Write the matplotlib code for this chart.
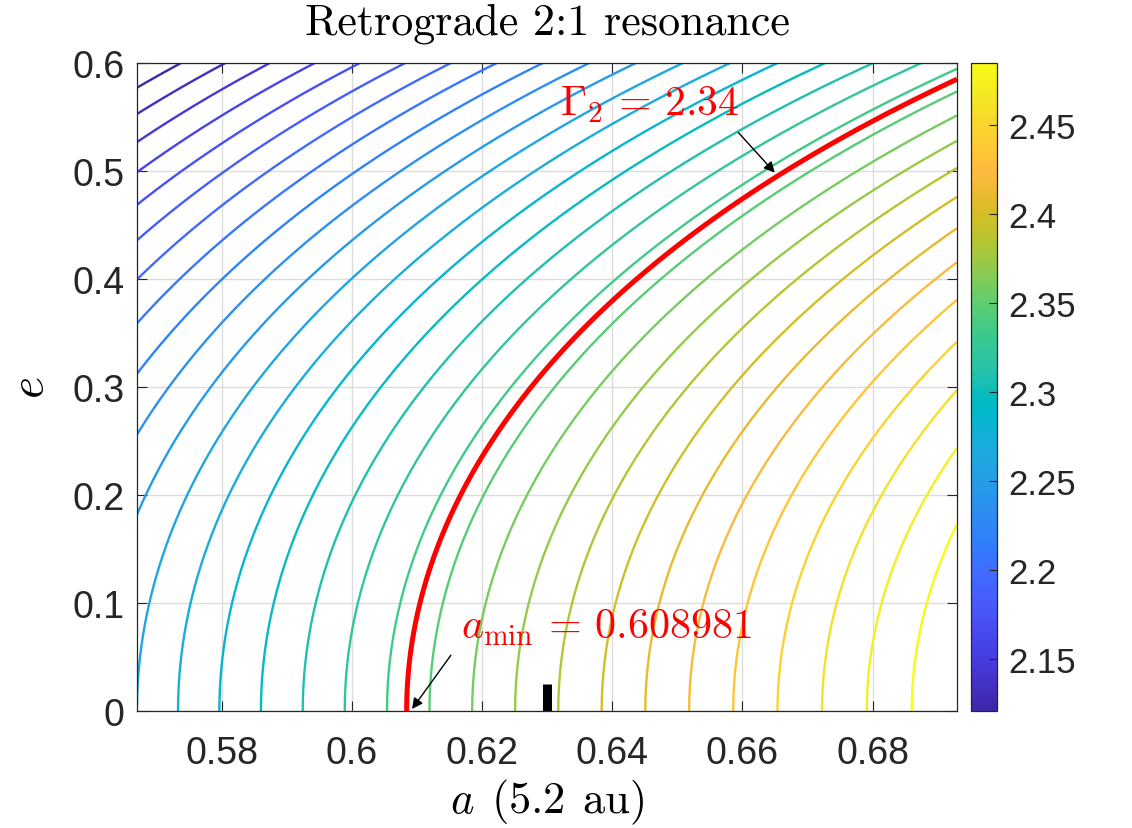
import numpy as np
import matplotlib
matplotlib.use("Agg")
import matplotlib.pyplot as plt
from matplotlib.colors import LinearSegmentedColormap, Normalize
from matplotlib.cm import ScalarMappable
from matplotlib.ticker import FuncFormatter

plt.rcParams['mathtext.fontset'] = 'cm'
plt.rcParams['font.family'] = ['Liberation Sans', 'DejaVu Sans']

# ---- data ----
a_res = 2 ** (-2 / 3)            # 2:1 resonance location (units of 5.2 au)
a_lo, a_hi = 0.9 * a_res, 1.1 * a_res
e_lo, e_hi = 0.0, 0.6
n_levels = 30
gamma2 = 2.34
a_min = 0.608981
marker_height = 0.025
x_ticks = [0.58, 0.60, 0.62, 0.64, 0.66, 0.68]
y_ticks = [0, 0.1, 0.2, 0.3, 0.4, 0.5, 0.6]
cbar_ticks = [2.15, 2.20, 2.25, 2.30, 2.35, 2.40, 2.45]

# parula colormap (MATLAB)
parula_data = [
    [0.2422, 0.1504, 0.6603], [0.2504, 0.1650, 0.7076], [0.2578, 0.1818, 0.7511],
    [0.2647, 0.1978, 0.7952], [0.2706, 0.2147, 0.8364], [0.2751, 0.2342, 0.8710],
    [0.2783, 0.2559, 0.8991], [0.2803, 0.2782, 0.9221], [0.2813, 0.3006, 0.9414],
    [0.2810, 0.3228, 0.9579], [0.2795, 0.3447, 0.9717], [0.2760, 0.3667, 0.9829],
    [0.2699, 0.3892, 0.9906], [0.2602, 0.4123, 0.9952], [0.2440, 0.4358, 0.9988],
    [0.2206, 0.4603, 0.9973], [0.1963, 0.4847, 0.9892], [0.1834, 0.5074, 0.9798],
    [0.1786, 0.5289, 0.9682], [0.1764, 0.5499, 0.9520], [0.1687, 0.5703, 0.9359],
    [0.1540, 0.5902, 0.9218], [0.1460, 0.6091, 0.9079], [0.1380, 0.6276, 0.8973],
    [0.1248, 0.6459, 0.8883], [0.1113, 0.6635, 0.8763], [0.0952, 0.6798, 0.8598],
    [0.0689, 0.6948, 0.8394], [0.0297, 0.7082, 0.8163], [0.0036, 0.7199, 0.7913],
    [0.0067, 0.7300, 0.7642], [0.0433, 0.7394, 0.7353], [0.0964, 0.7489, 0.7040],
    [0.1408, 0.7582, 0.6717], [0.1717, 0.7670, 0.6385], [0.1938, 0.7758, 0.6050],
    [0.2161, 0.7843, 0.5715], [0.2470, 0.7918, 0.5367], [0.2906, 0.7973, 0.5016],
    [0.3406, 0.8008, 0.4647], [0.3909, 0.8029, 0.4282], [0.4456, 0.8024, 0.3909],
    [0.5044, 0.7993, 0.3480], [0.5616, 0.7942, 0.3045], [0.6174, 0.7876, 0.2612],
    [0.6720, 0.7793, 0.2227], [0.7242, 0.7698, 0.1910], [0.7738, 0.7598, 0.1646],
    [0.8203, 0.7498, 0.1535], [0.8634, 0.7406, 0.1596], [0.9035, 0.7330, 0.1774],
    [0.9393, 0.7288, 0.2100], [0.9728, 0.7298, 0.2394], [0.9956, 0.7434, 0.2371],
    [0.9970, 0.7659, 0.2199], [0.9952, 0.7893, 0.2028], [0.9892, 0.8136, 0.1885],
    [0.9786, 0.8386, 0.1766], [0.9676, 0.8639, 0.1643], [0.9610, 0.8890, 0.1537],
    [0.9597, 0.9135, 0.1423], [0.9628, 0.9373, 0.1265], [0.9691, 0.9606, 0.1064],
    [0.9769, 0.9839, 0.0805]]
parula = LinearSegmentedColormap.from_list('parula', parula_data, N=256)

# Gamma_2 field
a = np.linspace(a_lo, a_hi, 400)
e = np.linspace(e_lo, e_hi, 400)
A, E = np.meshgrid(a, e)
G = np.sqrt(A) * (2 + np.sqrt(1 - E ** 2))
zmin, zmax = G.min(), G.max()
levels = np.linspace(zmin, zmax, n_levels + 2)[1:-1]

fig = plt.figure(figsize=(11.32, 8.29), dpi=100)
ax = fig.add_axes([0.121, 0.1408, 0.7244, 0.782])
ax.set_axisbelow(True)
ax.grid(True, color='#dcdcdc', lw=1.0)

norm = Normalize(vmin=levels.min(), vmax=levels.max())
ax.contour(A, E, G, levels=levels, cmap=parula, norm=norm, linewidths=1.7)
ax.contour(A, E, G, levels=[gamma2], colors='red', linewidths=3.6)
ax.plot([a_res, a_res], [0, marker_height], color='k', lw=6.5, solid_capstyle='butt')

ax.set_xlim(a_lo, a_hi)
ax.set_ylim(e_lo, e_hi)
ax.set_xticks(x_ticks)
ax.set_yticks(y_ticks)
fmt = FuncFormatter(lambda v, p: '%g' % round(v, 4))
ax.xaxis.set_major_formatter(fmt)
ax.yaxis.set_major_formatter(fmt)
ax.tick_params(direction='in', top=True, right=True, length=7, width=0.8,
               labelsize=27, colors='#262626')
ax.tick_params(axis='x', pad=17)
ax.tick_params(axis='y', pad=9)
for s in ax.spines.values():
    s.set_color('#262626')
    s.set_linewidth(0.9)

# title (LaTeX-like Computer Modern), baseline placed above the axes
fig.text(0.4832, 1 - 34 / 829, 'Retrograde 2:1 resonance', family='cmr10',
         fontsize=31.7, ha='center', va='baseline', color='k')

ax.set_xlabel(r'$a\hspace{0.45}(5.2\hspace{0.45}\mathrm{au})$', fontsize=32)
ax.xaxis.label.set_va('baseline')
ax.xaxis.set_label_coords(0.5, (712.3 - 813) / 648.3)
ax.set_ylabel(r'$e$', fontsize=34, labelpad=14)

ax.annotate('', xy=(a_min, 0.0), xytext=(0.61545, 0.054),
            arrowprops=dict(arrowstyle='-|>', color='k', lw=1.0, mutation_scale=16))
ax.annotate('', xy=(0.66525, 0.4966), xytext=(0.65907, 0.5376),
            arrowprops=dict(arrowstyle='-|>', color='k', lw=1.0, mutation_scale=16))
ax.text(0.6168, 0.0676, r'$a_{\min}\,=\,%g$' % a_min, color='red', fontsize=30.3,
        ha='left', va='baseline')
ax.text(0.6320, 0.5515, r'$\Gamma_2\,=\,%g$' % gamma2, color='red', fontsize=30.0,
        ha='left', va='baseline')

cax = fig.add_axes([0.8578, 0.1408, 0.023, 0.782])
sm = ScalarMappable(norm=norm, cmap=parula)
cb = fig.colorbar(sm, cax=cax, ticks=cbar_ticks)
cb.ax.yaxis.set_major_formatter(FuncFormatter(lambda v, p: '%g' % round(v, 4)))
cb.ax.tick_params(direction='in', length=6, width=0.8, labelsize=25, colors='#262626', pad=8)
cb.outline.set_edgecolor('#262626')
cb.outline.set_linewidth(0.9)

fig.savefig('out.png', dpi=100)
